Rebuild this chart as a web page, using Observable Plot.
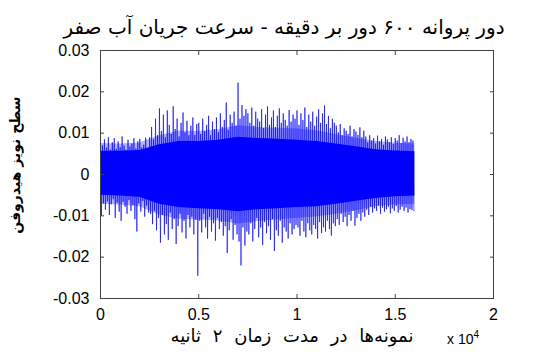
<!DOCTYPE html>
<html><head><meta charset="utf-8">
<script src="https://cdn.jsdelivr.net/npm/d3@7"></script>
<script src="https://cdn.jsdelivr.net/npm/@observablehq/plot@0.6"></script>
<style>
body{margin:0;background:#fff;}
#wrap{position:relative;width:533px;height:355px;overflow:hidden;background:#fff;}
.t{position:absolute;font-family:"DejaVu Sans",sans-serif;color:#000;white-space:nowrap;}
</style></head><body><div id="wrap"></div>
<script>
// ---- data ----
const titleText = "دور پروانه ۶۰۰ دور بر دقیقه - سرعت جریان آب صفر";
const xLabelText = "نمونه‌ها در مدت زمان ۲ ثانیه";
const yLabel = "سطح نویز هیدروفن";
const xTicks = [0, 5000, 10000, 15000, 20000];
const xTickLabels = ["0", "0.5", "1", "1.5", "2"];
const yTicks = [-0.03, -0.02, -0.01, 0, 0.01, 0.02, 0.03];
const yTickLabels = ["-0.03", "-0.02", "-0.01", "0", "0.01", "0.02", "0.03"];
const sampleStep = 100; // samples between successive upper peaks

// upper excursions (one every 100 samples)
const upperPeaks = [
 0.0094,0.007,0.0085,0.0065,0.009,0.006,0.0078,0.0088,0.0062,0.008,
 0.0066,0.0092,0.007,0.006,0.0084,0.0068,0.0075,0.0088,0.0063,0.008,
 0.0086,0.0066,0.0072,0.0089,0.0064,
 0.009,0.0115,0.0085,0.0135,0.0095,0.016,0.0105,0.0145,0.009,0.0155,
 0.012,0.0098,0.0165,0.011,0.0135,0.0092,0.0125,0.015,0.0102,0.013,
 0.0095,0.0118,0.0138,0.0096,0.0122,
 0.0125,0.0098,0.0135,0.0105,0.012,0.0142,0.0095,0.0128,0.011,0.0138,
 0.0102,0.0148,0.0115,0.0132,0.0174,0.0108,0.0145,0.0125,0.0152,0.0118,
 0.0222,0.0135,0.0168,0.0142,0.0158,
 0.0148,0.0125,0.0162,0.0118,0.0152,0.0135,0.0128,0.0158,0.0112,0.0145,
 0.0165,0.012,0.0138,0.0155,0.0115,0.0142,0.016,0.0125,0.0148,0.0132,
 0.0118,0.0156,0.0128,0.0145,0.0135,
 0.0155,0.012,0.0148,0.0132,0.0162,0.0115,0.0145,0.0128,0.0152,0.0118,
 0.014,0.0158,0.0125,0.0148,0.0167,0.0122,0.0142,0.0112,0.0135,0.0125,
 0.0118,0.0102,0.0122,0.0095,0.0112,0.0106,0.0098,0.0118,0.0092,0.011,
 0.0104,0.0096,0.0114,0.009,0.0106,
 0.0092,0.0078,0.0095,0.0082,0.0088,0.0075,0.0094,0.008,0.0086,0.0072,
 0.0092,0.0085,0.0078,0.009,0.0074,0.0088,0.0082,0.0095,0.0076,0.0089,
 0.008,0.0092,0.0078,0.0086,0.0082
];
// lower excursions (offset by half a step)
const lowerPeaks = [
 -0.0099,-0.007,-0.0085,-0.0065,-0.0098,-0.0072,-0.006,-0.0105,-0.0068,-0.009,
 -0.0112,-0.0066,-0.0078,-0.0095,-0.0062,-0.0088,-0.0074,-0.0108,-0.0138,-0.007,
 -0.009,-0.0064,-0.0102,-0.0075,-0.0092,
 -0.0095,-0.012,-0.0088,-0.0135,-0.0105,-0.0165,-0.0098,-0.0145,-0.012,-0.0158,
 -0.0092,-0.0132,-0.0108,-0.0168,-0.0125,-0.0095,-0.014,-0.0112,-0.0155,-0.0098,
 -0.0128,-0.0102,-0.0145,-0.011,-0.0245,
 -0.0112,-0.014,-0.0095,-0.0128,-0.0155,-0.0102,-0.0138,-0.0118,-0.016,-0.0105,
 -0.0132,-0.0115,-0.0148,-0.0125,-0.019,-0.0135,-0.0108,-0.0158,-0.0122,-0.0145,
 -0.0162,-0.022,-0.0128,-0.0172,-0.0138,
 -0.0145,-0.0118,-0.0162,-0.0132,-0.0105,-0.0152,-0.0128,-0.017,-0.0115,-0.0142,
 -0.0125,-0.0158,-0.0108,-0.0185,-0.0135,-0.0148,-0.0112,-0.0165,-0.0128,-0.0138,
 -0.0155,-0.0118,-0.0145,-0.0132,-0.0122,
 -0.0128,-0.0148,-0.0112,-0.0138,-0.0152,-0.0118,-0.0135,-0.0145,-0.0122,-0.0132,
 -0.0155,-0.0115,-0.0142,-0.0128,-0.0138,-0.0112,-0.0132,-0.0148,-0.0118,-0.0125,
 -0.0108,-0.0122,-0.0095,-0.0115,-0.0102,-0.0125,-0.0098,-0.0112,-0.0088,-0.0124,
 -0.0105,-0.0095,-0.0112,-0.0092,-0.0102,
 -0.0085,-0.0098,-0.0078,-0.0092,-0.0082,-0.0088,-0.0075,-0.0095,-0.008,-0.009,
 -0.0084,-0.0078,-0.0094,-0.0082,-0.0088,-0.0076,-0.0092,-0.0085,-0.0078,-0.0088,
 -0.008,-0.0092,-0.0084,-0.0086,-0.0088
];
// dense core of the signal (solid band) and its fuzzy fringe
const coreX  = [0,1000,2000,3000,4000,5000,6000,7000,8000,9000,10000,11000,12000,13000,14000,15000,16000];
const coreHi = [0.0056,0.0056,0.0058,0.0072,0.008,0.008,0.0083,0.009,0.0087,0.0085,0.0083,0.008,0.0074,0.0067,0.006,0.0057,0.0055];
const coreLo = [-0.005,-0.0052,-0.0055,-0.0072,-0.008,-0.0083,-0.0085,-0.009,-0.0085,-0.0083,-0.008,-0.0078,-0.0072,-0.0065,-0.0058,-0.0054,-0.0052];
const fringeHi = [0.0075,0.0074,0.0076,0.0094,0.0105,0.0104,0.0108,0.0118,0.0114,0.0112,0.011,0.0106,0.0097,0.0088,0.008,0.0076,0.0074];
const fringeLo = [-0.0072,-0.0074,-0.0078,-0.0098,-0.0108,-0.011,-0.0112,-0.012,-0.0114,-0.011,-0.0106,-0.0103,-0.0096,-0.0088,-0.0078,-0.0074,-0.0072];

// ---- tables built from the arrays ----
const signal = [];
upperPeaks.forEach((v, i) => {
  signal.push({x: i * sampleStep, y: v});
  signal.push({x: i * sampleStep + sampleStep / 2, y: lowerPeaks[i]});
});
const band = coreX.map((x, i) => ({x, hi: coreHi[i], lo: coreLo[i], fhi: fringeHi[i], flo: fringeLo[i]}));
const xFmt = d => xTickLabels[xTicks.indexOf(d)];
const yFmt = d => yTickLabels[yTicks.findIndex(t => Math.abs(t - d) < 1e-9)];
const blank = () => "";
const axisFont = {fontSize: 16, fontFamily: "Liberation Sans, Arial, sans-serif"};

const chart = Plot.plot({
  width: 533, height: 355,
  marginLeft: 100, marginRight: 40, marginTop: 50, marginBottom: 57,
  style: {background: "#fff", color: "#000", overflow: "visible"},
  x: {domain: [0, 20000], label: null},
  y: {domain: [-0.03, 0.03], label: null},
  marks: [
    Plot.areaY(band, {x: "x", y1: "flo", y2: "fhi", fill: "#0000ff", fillOpacity: 0.3}),
    Plot.areaY(band, {x: "x", y1: "lo", y2: "hi", fill: "#0000ff"}),
    Plot.line(signal, {x: "x", y: "y", stroke: "#0000ff", strokeWidth: 0.8, strokeOpacity: 0.8}),
    Plot.frame({stroke: "#404040", strokeWidth: 1}),
    Plot.axisX({ticks: xTicks, tickSize: 0, tickPadding: 10, tickFormat: xFmt, ...axisFont, anchor: "bottom"}),
    Plot.axisX({ticks: xTicks, tickSize: 4, dy: -4, tickFormat: blank, anchor: "bottom", stroke: "#404040"}),
    Plot.axisX({ticks: xTicks, tickSize: 4, dy: 4, tickFormat: blank, anchor: "top", stroke: "#404040"}),
    Plot.axisY({ticks: yTicks, tickSize: 0, tickPadding: 11, tickFormat: yFmt, ...axisFont, anchor: "left"}),
    Plot.axisY({ticks: yTicks, tickSize: 4, dx: 4, tickFormat: blank, anchor: "left", stroke: "#404040"}),
    Plot.axisY({ticks: yTicks, tickSize: 4, dx: -4, tickFormat: blank, anchor: "right", stroke: "#404040"})
  ]
});
const wrap = document.getElementById("wrap");
wrap.appendChild(chart);

function addText(text, css) {
  const d = document.createElement("div");
  d.className = "t";
  d.style.cssText = css;
  d.textContent = text;
  wrap.appendChild(d);
  return d;
}
addText(titleText, "left:34px;width:500px;text-align:center;direction:rtl;top:15px;font-size:20px;");
addText(xLabelText, "left:92px;width:400px;text-align:center;direction:rtl;top:325px;font-size:18px;word-spacing:6px;");

const ex = document.createElement("div");
ex.className = "t";
ex.style.cssText = "left:447px;top:329px;font-size:14px;font-family:'Liberation Sans',Arial,sans-serif;";
ex.innerHTML = "x 10<sup style='font-size:10px;vertical-align:6px'>4</sup>";
wrap.appendChild(ex);

addText(yLabel, "left:15px;top:165px;font-size:14px;direction:rtl;transform:translate(-50%,-50%) rotate(-90deg);font-weight:bold;");
</script>
</body></html>
